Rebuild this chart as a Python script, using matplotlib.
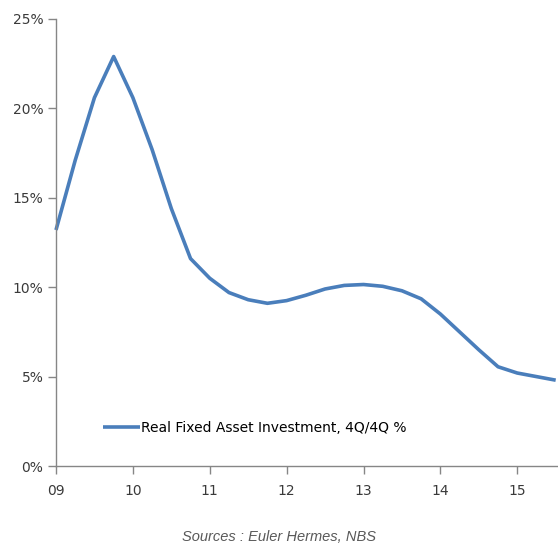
import numpy as np
import matplotlib.pyplot as plt
from matplotlib.ticker import FuncFormatter

# Quarterly points, 2009 Q1 .. 2015 Q3 (x in years, 09 = 2009)
quarters = np.arange(9.0, 15.51, 0.25)
fai = [13.2, 17.1, 20.6, 22.9,
       20.6, 17.7, 14.4, 11.6,
       10.5, 9.7, 9.3, 9.1,
       9.25, 9.55, 9.9, 10.1,
       10.15, 10.05, 9.8, 9.35,
       8.5, 7.5, 6.5, 5.55,
       5.2, 5.0, 4.8]
year_ticks = [9, 10, 11, 12, 13, 14, 15]
year_labels = ['09', '10', '11', '12', '13', '14', '15']

fig = plt.figure(figsize=(5.58, 5.45), dpi=100)
ax = fig.add_axes([56 / 558, 1 - 466 / 545, 1 - 56 / 558, (466 - 19) / 545])

ax.plot(quarters, fai, color='#4a7ebb', linewidth=2.6, solid_joinstyle='round',
        solid_capstyle='butt', label='Real Fixed Asset Investment, 4Q/4Q %',
        clip_on=False)

ax.set_xlim(9, 15.53)
ax.set_ylim(0, 25)
ax.set_yticks(np.arange(0, 26, 5))
ax.yaxis.set_major_formatter(FuncFormatter(lambda v, p: f'{v:.0f}%'))
ax.set_xticks(year_ticks)
ax.set_xticklabels(year_labels)

for s in ['top', 'right']:
    ax.spines[s].set_visible(False)
for s in ['left', 'bottom']:
    ax.spines[s].set_color('#868686')
    ax.spines[s].set_linewidth(1.0)
ax.tick_params(axis='both', colors='#868686', labelcolor='#3a3a3a',
               labelsize=10, length=6, width=1.0, direction='out')
ax.tick_params(axis='x', pad=7)
ax.tick_params(axis='y', pad=3)

ax.legend(loc='center left', bbox_to_anchor=(0.094, (466 - 428) / 447), frameon=False,
          fontsize=10, handlelength=2.65, handletextpad=0.1,
          borderpad=0, borderaxespad=0)

fig.text(0.5, 1 - 537 / 545, 'Sources : Euler Hermes, NBS', ha='center', va='center',
         fontsize=10.5, style='italic', color='#595959', family='Liberation Sans')

fig.savefig('out.png', dpi=100)
